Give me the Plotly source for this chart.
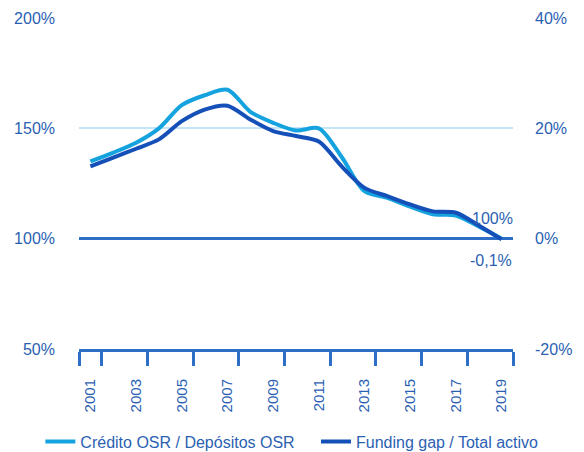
import plotly.graph_objects as go

# Annual series, 2001-2019
years = list(range(2001, 2020))
credito_depositos = [135, 139, 143.5, 150, 160.5, 165, 167.5, 157.5, 152.5, 149, 150,
                     137, 121.5, 118.5, 114.5, 111, 110.5, 105.5, 100]
funding_gap = [13.1, 14.7, 16.3, 18.0, 21.3, 23.4, 24.1, 21.6, 19.5, 18.6, 17.6,
               13.1, 9.2, 7.7, 6.2, 4.95, 4.7, 2.4, -0.1]

left_ticks = [50, 100, 150, 200]
right_ticks = [-20, 0, 20, 40]
label_years = years[::2]
boundary_ticks = [2000.5] + [y + 0.5 for y in label_years]

LIGHT = "#14a3df"
DARK = "#1550b8"
AXIS = "#2f6ec6"
TEXT = "#2b5fb3"
GRID = "#c4e5f5"
FONT = "Liberation Sans, Arial, sans-serif"

fig = go.Figure()
fig.add_trace(go.Scatter(
    x=years, y=credito_depositos, name="Crédito OSR / Depósitos OSR",
    mode="lines", line=dict(color=LIGHT, width=4, shape="spline", smoothing=0.8),
    yaxis="y", legend="legend"))
fig.add_trace(go.Scatter(
    x=years, y=funding_gap, name="Funding gap / Total activo",
    mode="lines", line=dict(color=DARK, width=4, shape="spline", smoothing=0.8),
    yaxis="y2", legend="legend2"))

def pct(v):
    return (f"{v:g}".replace(".", ",")) + "%"

fig.add_annotation(x=years[-1], y=credito_depositos[-1], yref="y", text=pct(credito_depositos[-1]),
                   showarrow=False, xshift=-9, yshift=20, font=dict(size=16, color=TEXT, family=FONT))
fig.add_annotation(x=years[-1], y=funding_gap[-1], yref="y2", text=pct(funding_gap[-1]),
                   showarrow=False, xshift=-11, yshift=-21, font=dict(size=16, color=TEXT, family=FONT))

legend_common = dict(orientation="h", y=-0.28, yanchor="middle", xanchor="left",
                     font=dict(size=16, color=TEXT, family=FONT), itemwidth=30,
                     bgcolor="rgba(0,0,0,0)", borderwidth=0)

fig.update_layout(
    width=584, height=452,
    margin=dict(l=79, r=71, t=18, b=103, autoexpand=False),
    paper_bgcolor="white", plot_bgcolor="white",
    font=dict(family=FONT, size=16, color=TEXT),
    showlegend=True,
    legend=dict(x=-0.089, **legend_common),
    legend2=dict(x=0.546, **legend_common),
    xaxis=dict(
        range=[2000.5, 2019.5], tickmode="array", tickvals=label_years,
        ticktext=[str(y) for y in label_years], tickangle=-90, ticks="",
        ticklabelstandoff=21,
        showgrid=False, zeroline=False,
        showline=True, linecolor=AXIS, linewidth=3,
        minor=dict(tickmode="array", tickvals=boundary_ticks, ticks="outside",
                   ticklen=14, tickwidth=3, tickcolor=AXIS, showgrid=False),
        tickfont=dict(size=15, color=TEXT),
    ),
    yaxis=dict(
        range=[50, 200], tickmode="array", tickvals=left_ticks,
        ticktext=[f"{v}%" for v in left_ticks],
        showgrid=True, gridcolor=GRID, gridwidth=1.5, zeroline=False,
        ticks="", ticklabelstandoff=23, tickfont=dict(size=16, color=TEXT),
    ),
    yaxis2=dict(
        range=[-20, 40], overlaying="y", side="right", tickmode="array",
        tickvals=right_ticks, ticktext=[f"{v}%" for v in right_ticks],
        showgrid=False, zeroline=True, zerolinecolor=AXIS, zerolinewidth=3,
        ticks="", ticklabelstandoff=21, tickfont=dict(size=16, color=TEXT),
    ),
)

fig.write_html("out.html")
